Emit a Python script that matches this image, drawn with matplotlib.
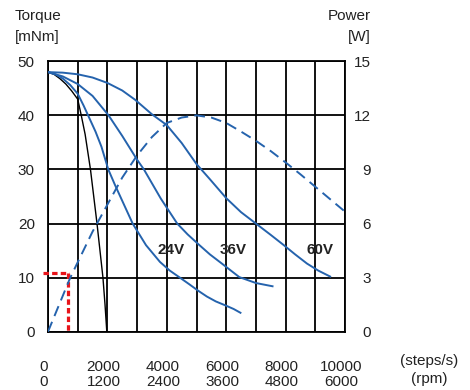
import matplotlib
matplotlib.use("Agg")
import matplotlib.pyplot as plt
from matplotlib.transforms import ScaledTranslation

plt.rcParams['font.family'] = ['Liberation Sans', 'DejaVu Sans']

# ---------------- data ----------------
# torque curves: speed in steps/s, torque in mNm
black_steps = [0, 200, 400, 600, 800, 1000, 1120, 1250, 1430, 1540, 1650, 1750, 1850, 1920, 1980]
black_torque = [48, 47.6, 46.8, 45.8, 44.5, 43, 40, 36.5, 30, 25, 20, 15, 10, 5, 0]

v24_steps = [0, 250, 500, 750, 1000, 1200, 1350, 1600, 1800, 2030, 2250, 2500, 2850,
             3300, 3770, 4100, 4440, 4750, 5050, 5350, 5650, 6000, 6250, 6480]
v24_torque = [48, 47.6, 46.8, 45.6, 44, 41.8, 40, 37, 34.2, 30, 27.2, 24.2, 20,
              16, 12.9, 11.3, 10, 8.8, 7.6, 6.5, 5.6, 4.8, 4.2, 3.5]

v36_steps = [0, 500, 1000, 1500, 2040, 2500, 3000, 3230, 3800, 4350, 4700, 5100,
             5450, 5830, 6440, 7000, 7560]
v36_torque = [48, 47.2, 45.8, 43.6, 40, 36.2, 31.8, 30, 24.6, 20, 18, 16,
              14.3, 12.7, 10.1, 9, 8.4]

v60_steps = [0, 500, 1000, 1500, 2000, 2500, 2930, 3500, 4000, 4500, 5000, 5450,
             6000, 6500, 7000, 7500, 7940, 8320, 8720, 9100, 9500]
v60_torque = [48, 47.9, 47.6, 47, 46, 44.6, 42.9, 40.2, 38.2, 34.9, 31, 28.2,
              24.7, 22.1, 20, 17.9, 16, 14.3, 12.6, 11.3, 10.2]

# power curve: steps/s, W
power_steps = [0, 750, 1500, 2000, 2500, 3000, 3500, 4000, 4500, 5000, 5500,
               6000, 6500, 7000, 7500, 8000, 8500, 9000, 9500, 10000]
power_w = [0, 3.0, 5.55, 7.05, 8.55, 9.78, 10.8, 11.58, 11.88, 12.0, 11.88,
           11.58, 11.1, 10.59, 10.02, 9.39, 8.73, 8.04, 7.35, 6.66]

# red marker (operating point)
red_steps = [-160, 700, 680, 680]
red_torque = [10.8, 10.8, 10.8, 0]

voltage_labels = ['24V', '36V', '60V']
voltage_label_steps = [4140, 6230, 9160]
voltage_label_torque = [15.1, 15.1, 15.1]

x_ticks = [0, 2000, 4000, 6000, 8000, 10000]
x_labels_steps = ['0', '2000', '4000', '6000', '8000', '10000']
x_labels_rpm = ['0', '1200', '2400', '3600', '4800', '6000']
torque_ticks = [0, 10, 20, 30, 40, 50]
power_ticks = [0, 3, 6, 9, 12, 15]

# ---------------- figure ----------------
W, H = 470, 390
fig = plt.figure(figsize=(W / 100, H / 100), dpi=100)
ax = fig.add_axes([48 / W, (H - 331.7) / H, 297 / W, 270.4 / H])
ax.set_xlim(0, 10000)
ax.set_ylim(0, 50)

txt = '#222222'
blue = '#2563ad'

ax.set_xticks(x_ticks)
ax.set_xticks(range(1000, 10000, 2000), minor=True)
ax.set_xticklabels([f"{a}\n{b}" for a, b in zip(x_labels_steps, x_labels_rpm)],
                   linespacing=1.08)
ax.set_yticks(torque_ticks)
ax.tick_params(which='both', length=0)
ax.tick_params(axis='x', pad=20.6, labelsize=11, labelcolor=txt)
ax.tick_params(axis='y', pad=9.5, labelsize=11, labelcolor=txt)
shift = ScaledTranslation(-4 / 100, 0, fig.dpi_scale_trans)
for lbl in ax.get_xticklabels():
    lbl.set_transform(lbl.get_transform() + shift)
ax.grid(True, which='both', color='black', linewidth=1.3)
ax.set_axisbelow(True)
for s in ax.spines.values():
    s.set_color('black')
    s.set_linewidth(1.3)

ax.plot(black_steps, black_torque, color='black', lw=1.0, zorder=3)
ax.plot(v24_steps, v24_torque, color=blue, lw=1.4, zorder=3)
ax.plot(v36_steps, v36_torque, color=blue, lw=1.4, zorder=3)
ax.plot(v60_steps, v60_torque, color=blue, lw=1.4, zorder=3)

ax.plot(red_steps[:2], red_torque[:2], color='#e8141a', lw=2.3,
        dashes=(1.7, 1.0), clip_on=False, zorder=5)
ax.plot(red_steps[2:], red_torque[2:], color='#e8141a', lw=2.3,
        dashes=(1.7, 1.0), clip_on=False, zorder=5)

for lab, xs, ys in zip(voltage_labels, voltage_label_steps, voltage_label_torque):
    ax.text(xs, ys, lab, ha='center', va='center', fontsize=11,
            fontweight='bold', color=txt, zorder=6)

ax2 = ax.twinx()
ax2.set_ylim(0, 15)
ax2.set_yticks(power_ticks)
ax2.tick_params(length=0, pad=18.7, labelsize=11, labelcolor=txt)
for lbl in ax2.get_yticklabels():
    lbl.set_horizontalalignment('right')
for s in ax2.spines.values():
    s.set_visible(False)
ax2.plot(power_steps, power_w, color=blue, lw=1.4, dashes=(5.5, 3.2), zorder=3)

fig.text(15 / W, 1 - 16 / H, 'Torque', ha='left', va='center', fontsize=11, color=txt)
fig.text(15 / W, 1 - 37 / H, '[mNm]', ha='left', va='center', fontsize=11, color=txt)
fig.text(371 / W, 1 - 16 / H, 'Power', ha='right', va='center', fontsize=11, color=txt)
fig.text(371 / W, 1 - 37 / H, '[W]', ha='right', va='center', fontsize=11, color=txt)
fig.text(429 / W, 1 - 361 / H, '(steps/s)', ha='center', va='center', fontsize=11, color=txt)
fig.text(429 / W, 1 - 379 / H, '(rpm)', ha='center', va='center', fontsize=11, color=txt)

fig.savefig('out.png', dpi=100)
